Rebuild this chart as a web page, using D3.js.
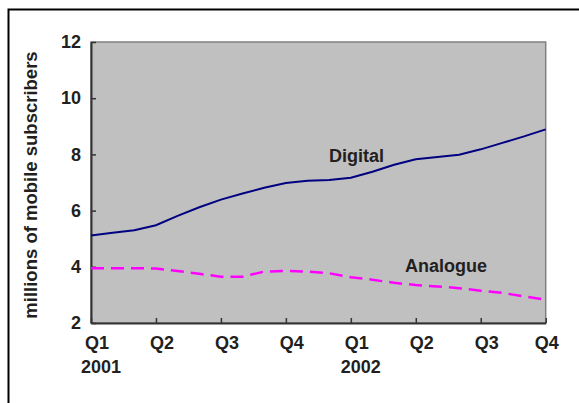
<!DOCTYPE html>
<html>
<head>
<meta charset="utf-8">
<script src="https://cdn.jsdelivr.net/npm/d3@7"></script>
<style>
  body { margin: 0; background: #fff; }
  text { font-family: "Liberation Sans", Arial, sans-serif; font-weight: bold; fill: #231f20; }
</style>
</head>
<body>
<script>
'use strict';

// monthly points, Jan 2001 .. Oct 2002 (month index 0..21)
const months = d3.range(22);
const digital = [5.11, 5.21, 5.30, 5.48, 5.81, 6.12, 6.39, 6.61, 6.81, 6.98, 7.06, 7.09,
                 7.17, 7.38, 7.63, 7.83, 7.91, 7.99, 8.18, 8.41, 8.64, 8.89];
const analogue = [3.95, 3.95, 3.95, 3.94, 3.85, 3.75, 3.65, 3.65, 3.83, 3.85, 3.83, 3.77,
                  3.63, 3.54, 3.43, 3.35, 3.30, 3.24, 3.15, 3.07, 2.95, 2.83];
const quarterMonths = [0, 3, 6, 9, 12, 15, 18, 21];
const quarterLabels = ["Q1", "Q2", "Q3", "Q4", "Q1", "Q2", "Q3", "Q4"];
const yearLabels = [{ m: 0, text: "2001" }, { m: 12, text: "2002" }];
const yTicks = [2, 4, 6, 8, 10, 12];

const svg = d3.select('body')
  .append('svg')
  .attr('width', 579)
  .attr('height', 403);

// outer frame (runs off the right and bottom edges)
svg.append('rect')
  .attr('x', 8.5)
  .attr('y', 9.5)
  .attr('width', 700)
  .attr('height', 500)
  .attr('fill', 'none')
  .attr('stroke', '#000')
  .attr('stroke-width', 2);

const plot = { left: 91, right: 545.7, top: 42, bottom: 323 };

const x = d3.scaleLinear()
  .domain([0, 21])
  .range([plot.left, plot.right]);

const y = d3.scaleLinear()
  .domain([2, 12])
  .range([plot.bottom, plot.top]);

// grey plot area
svg.append('rect')
  .attr('x', plot.left)
  .attr('y', plot.top)
  .attr('width', plot.right - plot.left)
  .attr('height', plot.bottom - plot.top)
  .attr('fill', '#c0c0c0')
  .attr('stroke', '#808080')
  .attr('stroke-width', 1.5);

// y axis, ticks pointing inwards
const yAxis = d3.axisLeft(y)
  .tickValues(yTicks)
  .tickSizeInner(-5)
  .tickSizeOuter(0)
  .tickPadding(10);
const gy = svg.append('g')
  .attr('transform', `translate(${plot.left}, 0)`)
  .call(yAxis);
gy.select('.domain').attr('stroke', '#333').attr('stroke-width', 2);
gy.selectAll('.tick line').attr('stroke', '#333').attr('stroke-width', 1.5);
gy.selectAll('.tick text')
  .style('font-size', '18px')
  .style('font-family', '"Liberation Sans", Arial, sans-serif')
  .style('font-weight', 'bold')
  .attr('fill', '#231f20');

// x axis, quarter ticks pointing inwards
const xAxis = d3.axisBottom(x)
  .tickValues(quarterMonths)
  .tickSizeInner(-5)
  .tickSizeOuter(0)
  .tickFormat('');
const gx = svg.append('g')
  .attr('transform', `translate(0, ${plot.bottom})`)
  .call(xAxis);
gx.select('.domain').attr('stroke', '#333').attr('stroke-width', 2);
gx.selectAll('.tick line').attr('stroke', '#333').attr('stroke-width', 1.5);

// quarter labels sit a little right of the ticks, last one on it
svg.selectAll('.qlabel')
  .data(quarterMonths)
  .enter()
  .append('text')
  .attr('class', 'qlabel')
  .attr('x', (d, i) => x(d) + (i === quarterMonths.length - 1 ? 1 : 6))
  .attr('y', 349)
  .attr('text-anchor', 'middle')
  .style('font-size', '18px')
  .text((d, i) => quarterLabels[i]);

svg.selectAll('.ylabel')
  .data(yearLabels)
  .enter()
  .append('text')
  .attr('class', 'ylabel')
  .attr('x', d => x(d.m) + 10)
  .attr('y', 373)
  .attr('text-anchor', 'middle')
  .style('font-size', '18px')
  .text(d => d.text);

// axis title
svg.append('text')
  .attr('transform', 'translate(37, 185)rotate(-90)')
  .attr('text-anchor', 'middle')
  .style('font-size', '18.5px')
  .text('millions of mobile subscribers');

const line = d3.line()
  .x((d, i) => x(months[i]))
  .y(d => y(d));

svg.append('path')
  .datum(analogue)
  .attr('d', line)
  .attr('fill', 'none')
  .attr('stroke', '#ff00ff')
  .attr('stroke-width', 2.5)
  .attr('stroke-dasharray', '13,7');

svg.append('path')
  .datum(digital)
  .attr('d', line)
  .attr('fill', 'none')
  .attr('stroke', '#000080')
  .attr('stroke-width', 2);

// series labels
svg.append('text')
  .attr('x', 329)
  .attr('y', 161.5)
  .style('font-size', '18px')
  .text('Digital');

svg.append('text')
  .attr('x', 405)
  .attr('y', 271.5)
  .style('font-size', '18px')
  .text('Analogue');
</script>
</body>
</html>
